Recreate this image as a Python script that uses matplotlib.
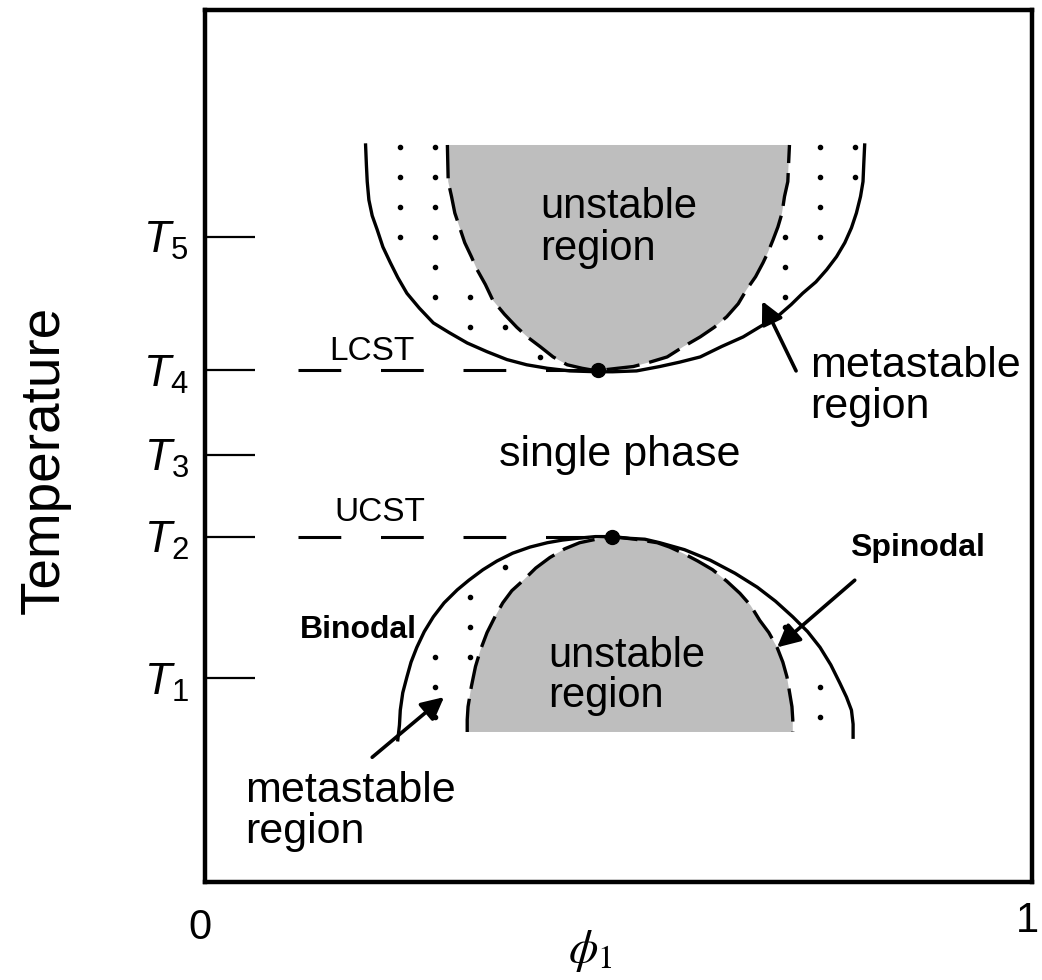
import numpy as np
import matplotlib
matplotlib.use("Agg")
import matplotlib.pyplot as plt
from matplotlib.path import Path

plt.rcParams['font.family'] = ['Liberation Sans', 'DejaVu Sans']
plt.rcParams['mathtext.fontset'] = 'custom'
plt.rcParams['mathtext.rm'] = 'Liberation Sans'
plt.rcParams['mathtext.it'] = 'Liberation Sans:italic'

# --- data (phi_1 in [0, 1], temperature in arbitrary units) ---
t_ticks = [0.234, 0.396, 0.490, 0.587, 0.740]
t_labels = [r'$T_1$', r'$T_2$', r'$T_3$', r'$T_4$', r'$T_5$']

# upper (LCST) binodal and spinodal
lcst_bin_x = [0.194, 0.195, 0.196, 0.198, 0.202, 0.208, 0.215, 0.224, 0.233, 0.244,
              0.259, 0.276, 0.295, 0.317, 0.341, 0.365, 0.389, 0.414, 0.441, 0.474,
              0.493, 0.522, 0.550, 0.574, 0.599, 0.625, 0.651, 0.672, 0.692, 0.709,
              0.723, 0.739, 0.752, 0.764, 0.774, 0.782, 0.788, 0.793, 0.796, 0.797, 0.798]
lcst_bin_y = [0.845, 0.822, 0.803, 0.782, 0.764, 0.748, 0.728, 0.710, 0.693, 0.675,
              0.658, 0.641, 0.630, 0.618, 0.608, 0.599, 0.593, 0.589, 0.586, 0.585,
              0.585, 0.586, 0.591, 0.596, 0.602, 0.614, 0.625, 0.637, 0.648, 0.662,
              0.675, 0.688, 0.702, 0.717, 0.733, 0.750, 0.767, 0.786, 0.803, 0.825, 0.845]
lcst_spi_x = [0.293, 0.294, 0.298, 0.302, 0.308, 0.314, 0.322, 0.329, 0.339, 0.348,
              0.362, 0.377, 0.391, 0.405, 0.421, 0.438, 0.456, 0.474,
              0.481, 0.499, 0.518, 0.538, 0.559, 0.579, 0.599, 0.616, 0.631, 0.645,
              0.655, 0.666, 0.675, 0.681, 0.687, 0.693, 0.698, 0.701, 0.705, 0.706, 0.707]
lcst_spi_y = [0.845, 0.803, 0.786, 0.767, 0.750, 0.733, 0.717, 0.702, 0.685, 0.667,
              0.651, 0.636, 0.624, 0.614, 0.602, 0.593, 0.589, 0.586,
              0.587, 0.589, 0.591, 0.596, 0.602, 0.614, 0.625, 0.636, 0.648, 0.663,
              0.679, 0.694, 0.710, 0.722, 0.736, 0.751, 0.767, 0.786, 0.803, 0.825, 0.845]

# lower (UCST) binodal and spinodal
ucst_bin_x = [0.233, 0.235, 0.236, 0.239, 0.244, 0.249, 0.256, 0.265, 0.276, 0.289,
              0.305, 0.319, 0.336, 0.353, 0.372, 0.393, 0.414, 0.432, 0.450, 0.472,
              0.492, 0.514, 0.532, 0.550, 0.580, 0.611, 0.641, 0.668, 0.690, 0.711,
              0.729, 0.744, 0.757, 0.768, 0.776, 0.782, 0.784, 0.784]
ucst_bin_y = [0.163, 0.180, 0.197, 0.217, 0.235, 0.252, 0.269, 0.287, 0.304, 0.320,
              0.335, 0.346, 0.358, 0.368, 0.377, 0.384, 0.389, 0.392, 0.394, 0.396,
              0.396, 0.394, 0.393, 0.389, 0.381, 0.369, 0.354, 0.338, 0.322, 0.304,
              0.287, 0.269, 0.249, 0.228, 0.212, 0.197, 0.181, 0.166]
ucst_spi_x = [0.317, 0.317, 0.318, 0.322, 0.327, 0.333, 0.341, 0.350, 0.360, 0.371,
              0.385, 0.400, 0.417, 0.435, 0.453, 0.473, 0.492, 0.520, 0.547, 0.562,
              0.578, 0.596, 0.614, 0.631, 0.647, 0.660, 0.671, 0.682, 0.692, 0.699,
              0.704, 0.707, 0.710, 0.711, 0.711]
ucst_spi_y = [0.172, 0.186, 0.201, 0.224, 0.247, 0.266, 0.286, 0.303, 0.320, 0.334,
              0.346, 0.360, 0.372, 0.382, 0.389, 0.393, 0.396, 0.393, 0.389, 0.384,
              0.377, 0.368, 0.358, 0.345, 0.331, 0.317, 0.300, 0.286, 0.269, 0.252,
              0.235, 0.218, 0.201, 0.186, 0.172]

lcst_point = (0.475, 0.587)
ucst_point = (0.492, 0.396)
dash_start = 0.112

# stipple texture spacing of the metastable regions
dot_x0, dot_dx = 0.236, 0.0423
dot_y0, dot_dy = 0.843, 0.0344


def dist_to_curve(pts, cx, cy):
    """smallest distance from each point to the polyline (cx, cy)"""
    a = np.column_stack([cx[:-1], cy[:-1]])
    b = np.column_stack([cx[1:], cy[1:]])
    ab = b - a
    ap = pts[:, None, :] - a[None, :, :]
    t = np.clip((ap * ab).sum(-1) / np.maximum((ab * ab).sum(-1), 1e-12), 0, 1)
    proj = a[None] + t[..., None] * ab[None]
    return np.sqrt(((pts[:, None, :] - proj) ** 2).sum(-1)).min(axis=1)


fig = plt.figure(figsize=(10.42, 9.8), dpi=100)
ax = fig.add_axes([0.197, 0.100, 0.793, 0.890])
ax.set_xlim(0, 1)
ax.set_ylim(0, 1)

# unstable regions
ax.fill(lcst_spi_x, lcst_spi_y, color='#bebebe', lw=0, zorder=1)
ax.fill(ucst_spi_x, ucst_spi_y, color='#bebebe', lw=0, zorder=1)

# metastable dots: grid points between binodal and spinodal
gx, gy = np.meshgrid(dot_x0 + dot_dx * np.arange(-2, 16),
                     dot_y0 - dot_dy * np.arange(0, 22))
pts = np.column_stack([gx.ravel(), gy.ravel()])
keep = np.zeros(len(pts), bool)
for bx, by, sx, sy in [(lcst_bin_x, lcst_bin_y, lcst_spi_x, lcst_spi_y),
                       (ucst_bin_x, ucst_bin_y, ucst_spi_x, ucst_spi_y)]:
    bx, by, sx, sy = map(np.asarray, (bx, by, sx, sy))
    in_b = Path(np.column_stack([bx, by])).contains_points(pts)
    in_s = Path(np.column_stack([sx, sy])).contains_points(pts)
    far = (dist_to_curve(pts, bx, by) > 0.009) & (dist_to_curve(pts, sx, sy) > 0.009)
    keep |= in_b & ~in_s & far
ax.plot(pts[keep, 0], pts[keep, 1], 'o', color='k', ms=3, zorder=2)

# binodals (solid) and spinodals (dashed)
ax.plot(lcst_bin_x, lcst_bin_y, color='k', lw=2.4, zorder=3)
ax.plot(ucst_bin_x, ucst_bin_y, color='k', lw=2.4, zorder=3)
ax.plot(lcst_spi_x, lcst_spi_y, color='k', lw=2.4, dashes=(10, 3), zorder=3)
ax.plot(ucst_spi_x, ucst_spi_y, color='k', lw=2.4, dashes=(10, 3), zorder=3)

# critical temperatures
ax.plot([dash_start, lcst_point[0]], [lcst_point[1]] * 2, color='k', lw=2.2,
        dashes=(14, 13), zorder=3)
ax.plot([dash_start, ucst_point[0]], [ucst_point[1]] * 2, color='k', lw=2.2,
        dashes=(14, 13), zorder=3)
ax.plot(*lcst_point, 'o', color='k', ms=10, zorder=4)
ax.plot(*ucst_point, 'o', color='k', ms=10, zorder=4)

# labels
ax.text(0.202, 0.608, 'LCST', fontsize=24, ha='center', va='center')
ax.text(0.211, 0.424, 'UCST', fontsize=24, ha='center', va='center')
ax.text(0.405, 0.750, 'unstable\nregion', fontsize=30, ha='left', va='center',
        linespacing=1.05, zorder=5)
ax.text(0.415, 0.236, 'unstable\nregion', fontsize=30, ha='left', va='center',
        linespacing=1.0, zorder=5)
ax.text(0.502, 0.490, 'single phase', fontsize=31, ha='center', va='center')
ax.text(0.732, 0.568, 'metastable\nregion', fontsize=31, ha='left', va='center',
        linespacing=1.05)
ax.text(0.048, 0.081, 'metastable\nregion', fontsize=31, ha='left', va='center',
        linespacing=1.05)
ax.text(0.115, 0.289, 'Binodal', fontsize=23, fontweight='bold', ha='left', va='center')
ax.text(0.780, 0.383, 'Spinodal', fontsize=23, fontweight='bold', ha='left', va='center')

arrow = dict(arrowstyle='-|>', color='k', lw=2.6, mutation_scale=34,
             shrinkA=0, shrinkB=0)
ax.annotate('', xy=(0.674, 0.666), xytext=(0.715, 0.586), arrowprops=arrow, zorder=6)
ax.annotate('', xy=(0.289, 0.212), xytext=(0.202, 0.143), arrowprops=arrow, zorder=6)
ax.annotate('', xy=(0.692, 0.269), xytext=(0.786, 0.346), arrowprops=arrow, zorder=6)

# axes styling
for sp in ax.spines.values():
    sp.set_linewidth(3.2)
ax.set_yticks(t_ticks)
ax.set_yticklabels(t_labels, fontsize=32)
ax.tick_params(axis='y', direction='in', length=36, width=1.6, pad=12)
ax.set_xticks([])
ax.text(-0.006, -0.053, '0', fontsize=30, ha='center', va='center', clip_on=False)
ax.text(0.995, -0.045, '1', fontsize=30, ha='center', va='center', clip_on=False)
ax.set_xlabel(r'$\phi_1$', fontsize=34, math_fontfamily='stix')
ax.xaxis.set_label_coords(0.466, -0.053)
fig.text(45 / 1042, 1 - 460 / 980, 'Temperature', fontsize=39.5, rotation=90,
         ha='center', va='center')

fig.savefig('out.png', dpi=100)
